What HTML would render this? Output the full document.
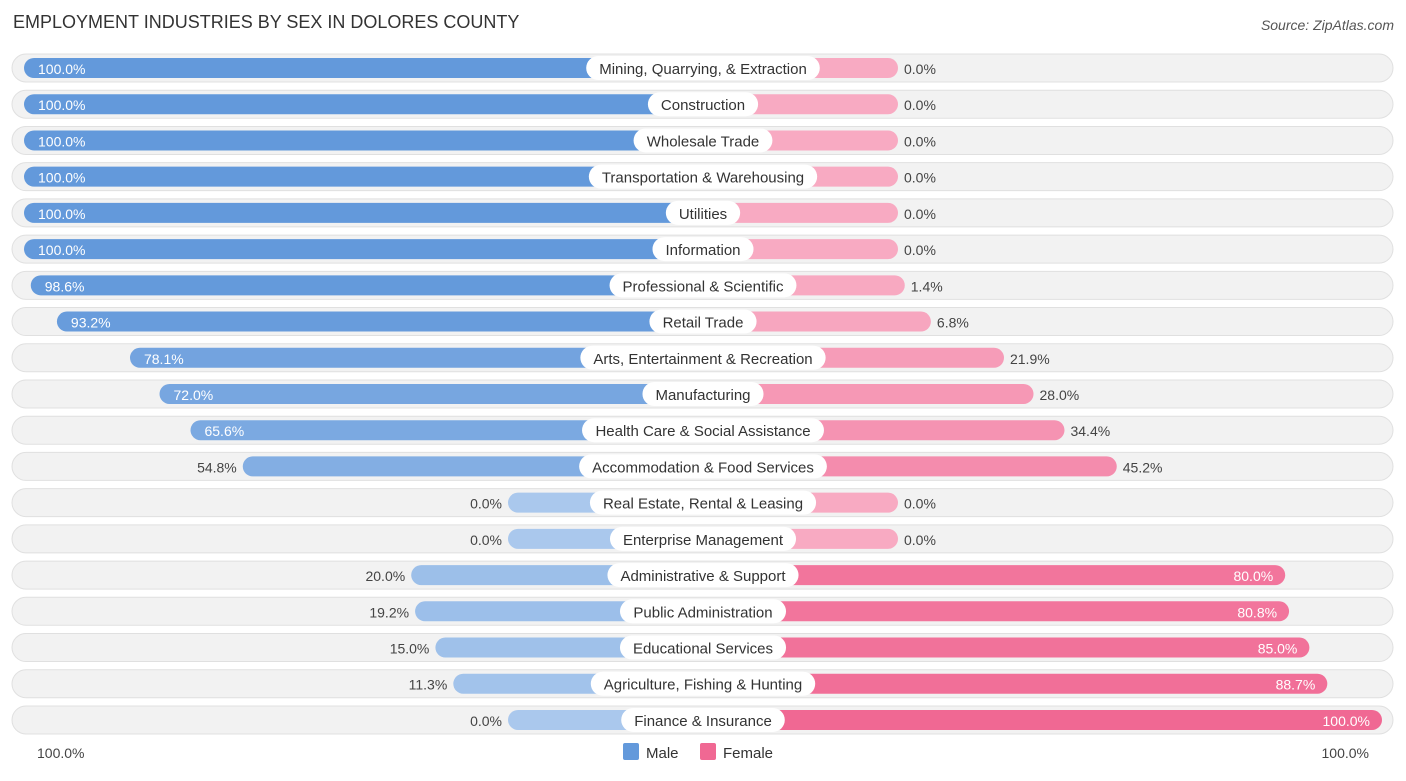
<!DOCTYPE html>
<html><head><meta charset="utf-8"><style>
body{margin:0;background:#fff;font-family:"Liberation Sans",sans-serif;}
svg text{font-family:"Liberation Sans",sans-serif;}
</style></head><body>
<svg id="c" width="1406" height="776" xmlns="http://www.w3.org/2000/svg">
<text x="13" y="28" font-size="18" fill="#333">EMPLOYMENT INDUSTRIES BY SEX IN DOLORES COUNTY</text>
<text x="1394" y="30" font-size="14" fill="#555" text-anchor="end" font-style="italic">Source: ZipAtlas.com</text>
<g id="rows"></g>
<text x="37" y="758" font-size="14" fill="#444">100.0%</text>
<text x="1369" y="758" font-size="14" fill="#444" text-anchor="end">100.0%</text>
<g>
<rect x="623" y="743" width="16" height="17" rx="2" fill="#6399db"/>
<text x="646" y="758" font-size="15" fill="#333">Male</text>
<rect x="700" y="743" width="16" height="17" rx="2" fill="#f06893"/>
<text x="723" y="758" font-size="15" fill="#333">Female</text>
</g>
</svg>
<script>
const categories=["Mining, Quarrying, & Extraction","Construction","Wholesale Trade","Transportation & Warehousing","Utilities","Information","Professional & Scientific","Retail Trade","Arts, Entertainment & Recreation","Manufacturing","Health Care & Social Assistance","Accommodation & Food Services","Real Estate, Rental & Leasing","Enterprise Management","Administrative & Support","Public Administration","Educational Services","Agriculture, Fishing & Hunting","Finance & Insurance"];
const maleValues=[100,100,100,100,100,100,98.6,93.2,78.1,72.0,65.6,54.8,0,0,20.0,19.2,15.0,11.3,0];
const femaleValues=[0,0,0,0,0,0,1.4,6.8,21.9,28.0,34.4,45.2,0,0,80.0,80.8,85.0,88.7,100];
const NS="http://www.w3.org/2000/svg";
const cx=703,stub=195,span=484,y0=68,dy=36.22;
function xs(v){return stub+v/100*span;}
function mix(a,b,t){return "rgb("+a.map((c,i)=>Math.round(c+(b[i]-c)*t)).join(",")+")";}
const g=document.getElementById("rows");
function el(tag,attrs,name){const e=document.createElementNS(NS,tag);for(const k in attrs)e.setAttribute(k,attrs[k]);return e;}
const meas=document.createElement('canvas').getContext('2d');meas.font='15px "Liberation Sans"';
categories.forEach((cat,i)=>{
  const y=y0+i*dy;
  g.appendChild(el("rect",{x:12,y:y-14,width:1381,height:28,rx:14,fill:"#f2f2f2",stroke:"#e0e0e0"},"row-background"));
  const m=maleValues[i],f=femaleValues[i];
  const mw=xs(m),fw=xs(f);
  g.appendChild(el("rect",{x:cx-mw,y:y-10,width:mw,height:20,rx:10,fill:mix([170,200,237],[99,153,219],m/100)},"bar-male"));
  g.appendChild(el("rect",{x:cx,y:y-10,width:fw,height:20,rx:10,fill:mix([248,170,194],[240,104,147],f/100)},"bar-female"));
  const lw=meas.measureText(cat).width+26;
  g.appendChild(el("rect",{x:cx-lw/2,y:y-12,width:lw,height:24,rx:12,fill:"#fff"},"category-label-bg"));
  const t=el("text",{x:cx,y:y+6,"font-size":15,fill:"#333","text-anchor":"middle"},"category-label");t.textContent=cat;g.appendChild(t);
  const mIn=m>=60;
  const mt=el("text",{x:mIn?cx-mw+14:cx-mw-6,y:y+6,"font-size":14,fill:mIn?"#fff":"#444","text-anchor":mIn?"start":"end"},"male-value");mt.textContent=m.toFixed(1)+"%";g.appendChild(mt);
  const fIn=f>=60;
  const ft=el("text",{x:fIn?cx+fw-12:cx+fw+6,y:y+6,"font-size":14,fill:fIn?"#fff":"#444","text-anchor":fIn?"end":"start"},"female-value");ft.textContent=f.toFixed(1)+"%";g.appendChild(ft);
});
</script>
</body></html>
